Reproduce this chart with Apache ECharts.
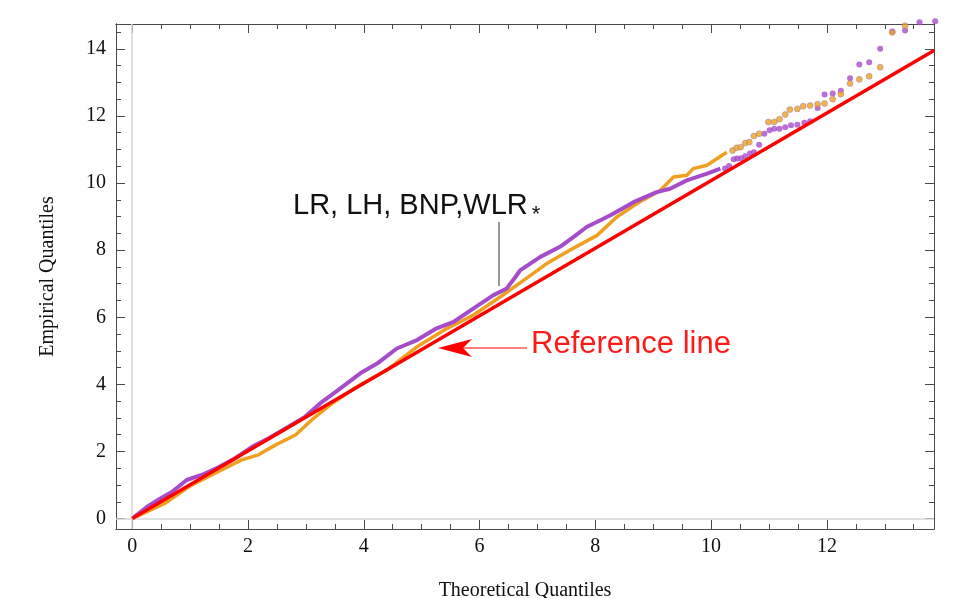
<!DOCTYPE html>
<html>
<head>
<meta charset="utf-8">
<script src="https://cdn.jsdelivr.net/npm/echarts@6/dist/echarts.min.js"></script>
<style>
html,body{margin:0;padding:0;background:#fff;}
#chart{width:955px;height:598px;}
</style>
</head>
<body>
<div id="chart"></div>
<script>
// ---- axis ranges and ticks ----
const xRange = [-0.28, 13.85];
const yRange = [-0.31, 14.74];
const xMajorTicks = [0, 2, 4, 6, 8, 10, 12];
const xMinorTicks = [0.5, 1, 1.5, 2.5, 3, 3.5, 4.5, 5, 5.5, 6.5, 7, 7.5, 8.5, 9, 9.5, 10.5, 11, 11.5, 12.5, 13, 13.5];
const yMajorTicks = [0, 2, 4, 6, 8, 10, 12, 14];
const yMinorTicks = [0.5, 1, 1.5, 2.5, 3, 3.5, 4.5, 5, 5.5, 6.5, 7, 7.5, 8.5, 9, 9.5, 10.5, 11, 11.5, 12.5, 13, 13.5, 14.5];

// ---- purple (dense part, drawn as a thick trace) ----
const purpleX = [0, 0.28, 0.45, 0.69, 0.94, 1.20, 1.49, 1.78, 2.07, 2.35, 2.70, 2.99, 3.28, 3.55, 3.94, 4.23, 4.57, 4.92, 5.26, 5.55, 5.89, 6.24, 6.47, 6.62, 6.70, 7.05, 7.39, 7.62, 7.85, 8.26, 8.66, 9.06, 9.29, 9.58, 9.93, 10.16];
const purpleY = [0, 0.38, 0.56, 0.80, 1.15, 1.30, 1.53, 1.80, 2.14, 2.39, 2.74, 3.04, 3.48, 3.82, 4.33, 4.62, 5.07, 5.32, 5.67, 5.86, 6.26, 6.66, 6.86, 7.20, 7.40, 7.80, 8.10, 8.39, 8.69, 9.04, 9.43, 9.73, 9.83, 10.08, 10.28, 10.43];

// ---- orange (dense part) ----
const orangeX = [0, 0.57, 1.00, 1.43, 1.89, 2.18, 2.47, 2.82, 3.10, 3.45, 3.90, 4.40, 4.92, 5.44, 5.89, 6.36, 6.76, 7.16, 7.56, 8.03, 8.37, 8.72, 9.12, 9.35, 9.58, 9.69, 9.93, 10.27];
const orangeY = [0, 0.46, 0.97, 1.35, 1.75, 1.90, 2.19, 2.49, 2.94, 3.43, 3.95, 4.43, 5.12, 5.67, 6.06, 6.61, 7.10, 7.60, 8.00, 8.44, 8.99, 9.39, 9.78, 10.18, 10.23, 10.43, 10.53, 10.92];

// ---- upper tail points ----
const purpleTailX = [10.24, 10.31, 10.39, 10.45, 10.52, 10.59, 10.67, 10.74, 10.83, 10.92, 11.01, 11.09, 11.18, 11.28, 11.38, 11.49, 11.61, 11.71, 11.84, 11.96, 12.10, 12.24, 12.40, 12.56, 12.73, 12.92, 13.13, 13.35, 13.60, 13.87];
const purpleTailY = [10.43, 10.51, 10.71, 10.73, 10.74, 10.80, 10.88, 10.92, 11.14, 11.47, 11.57, 11.62, 11.62, 11.66, 11.72, 11.74, 11.80, 11.84, 12.24, 12.64, 12.67, 12.75, 13.12, 13.53, 13.60, 14.00, 14.52, 14.55, 14.79, 14.82];
const orangeTailX = [10.37, 10.44, 10.51, 10.59, 10.66, 10.74, 10.83, 10.99, 11.09, 11.18, 11.28, 11.36, 11.49, 11.59, 11.71, 11.84, 11.96, 12.10, 12.24, 12.40, 12.56, 12.73, 12.92, 13.13, 13.35];
const orangeTailY = [10.97, 11.05, 11.07, 11.19, 11.22, 11.40, 11.47, 11.82, 11.82, 11.90, 12.04, 12.19, 12.21, 12.29, 12.31, 12.35, 12.37, 12.50, 12.65, 12.97, 13.09, 13.18, 13.45, 14.49, 14.69];

// ---- reference line ----
const refX = [0, 13.85];
const refY = [0, 13.95];

const purple = '#a64cca';
const orange = '#f0a01e';
const red = '#ff0000';
const frame = '#4a4a4a';
const serif = '"Liberation Serif", "DejaVu Serif", serif';
const sans = '"Liberation Sans", Arial, sans-serif';

const zip = (xs, ys) => xs.map((x, i) => [x, ys[i]]);

function xAxisDef(pos, ticks, len, labels, extra) {
  return Object.assign({
    type: 'value', position: pos, min: xRange[0], max: xRange[1],
    axisLine: { show: true, onZero: false, lineStyle: { color: frame, width: 1 } },
    axisTick: { show: true, inside: true, length: len, customValues: ticks, lineStyle: { color: frame, width: 1 } },
    axisLabel: labels ? { show: true, customValues: ticks, fontFamily: serif, fontSize: 20, color: '#111', margin: 8 } : { show: false },
    splitLine: { show: false }
  }, extra || {});
}
function yAxisDef(pos, ticks, len, labels, extra) {
  return Object.assign({
    type: 'value', position: pos, min: yRange[0], max: yRange[1],
    axisLine: { show: true, onZero: false, lineStyle: { color: frame, width: 1 } },
    axisTick: { show: true, inside: true, length: len, customValues: ticks, lineStyle: { color: frame, width: 1 } },
    axisLabel: labels ? { show: true, customValues: ticks, fontFamily: serif, fontSize: 20, color: '#111', margin: 10 } : { show: false },
    splitLine: { show: false }
  }, extra || {});
}

const chart = echarts.init(document.getElementById('chart'), null, { renderer: 'canvas' });
chart.setOption({
  animation: false,
  backgroundColor: '#ffffff',
  grid: { left: 116, right: 21, top: 24, bottom: 69, containLabel: false, outerBoundsMode: 'none' },
  xAxis: [
    xAxisDef('bottom', xMajorTicks, 9, true, {
      name: 'Theoretical Quantiles', nameLocation: 'middle', nameGap: 52,
      nameTextStyle: { fontFamily: serif, fontSize: 20, color: '#111' }
    }),
    xAxisDef('bottom', xMinorTicks, 5, false),
    xAxisDef('top', xMajorTicks, 9, false),
    xAxisDef('top', xMinorTicks, 5, false)
  ],
  yAxis: [
    yAxisDef('left', yMajorTicks, 9, true, {
      name: 'Empirical Quantiles', nameLocation: 'middle', nameGap: 58,
      nameTextStyle: { fontFamily: serif, fontSize: 20, color: '#111' }
    }),
    yAxisDef('left', yMinorTicks, 5, false),
    yAxisDef('right', yMajorTicks, 9, false),
    yAxisDef('right', yMinorTicks, 5, false)
  ],
  series: [
    {
      name: 'zero', type: 'line', data: [], z: 1, silent: true,
      markLine: {
        silent: true, symbol: ['none', 'none'], label: { show: false },
        lineStyle: { color: '#d6d6d6', width: 1.5, type: 'solid' },
        data: [{ xAxis: 0 }, { yAxis: 0 }]
      }
    },
    {
      name: 'LR', type: 'line', data: zip(orangeX, orangeY), showSymbol: false,
      lineStyle: { color: orange, width: 3.5 }, z: 3, silent: true
    },
    {
      name: 'WLR', type: 'line', data: zip(purpleX, purpleY), showSymbol: false,
      lineStyle: { color: purple, width: 4 }, z: 4, silent: true
    },
    {
      name: 'WLR tail', type: 'scatter', data: zip(purpleTailX, purpleTailY), symbolSize: 6, clip: false,
      itemStyle: { color: purple }, z: 4, silent: true
    },
    {
      name: 'LR tail', type: 'scatter', data: zip(orangeTailX, orangeTailY), symbolSize: 6, clip: false,
      itemStyle: { color: orange, borderColor: '#9a7aa8', borderWidth: 0.6 }, z: 5, silent: true
    },
    {
      name: 'Reference', type: 'line', data: zip(refX, refY), showSymbol: false,
      lineStyle: { color: red, width: 3.5 }, z: 6, silent: true
    }
  ],
  graphic: [
    { type: 'text', x: 293, y: 206, z: 100,
      style: { text: 'LR, LH, BNP,WLR', fontFamily: sans, fontSize: 29, fill: '#111', align: 'left', verticalAlign: 'middle' } },
    { type: 'text', x: 536, y: 215, z: 100,
      style: { text: '*', fontFamily: sans, fontSize: 22, fill: '#111', align: 'center', verticalAlign: 'middle' } },
    { type: 'line', z: 100, shape: { x1: 499, y1: 222, x2: 499, y2: 286 }, style: { stroke: '#333', lineWidth: 1 } },
    { type: 'text', x: 531, y: 344, z: 100,
      style: { text: 'Reference line', fontFamily: sans, fontSize: 31, fill: '#ff1a1a', align: 'left', verticalAlign: 'middle' } },
    { type: 'line', z: 100, shape: { x1: 462, y1: 348, x2: 527, y2: 348 }, style: { stroke: red, lineWidth: 1 } },
    { type: 'polygon', z: 100, shape: { points: [[438, 348], [472, 339], [463, 348], [472, 357]] }, style: { fill: red } }
  ]
});
</script>
</body>
</html>
